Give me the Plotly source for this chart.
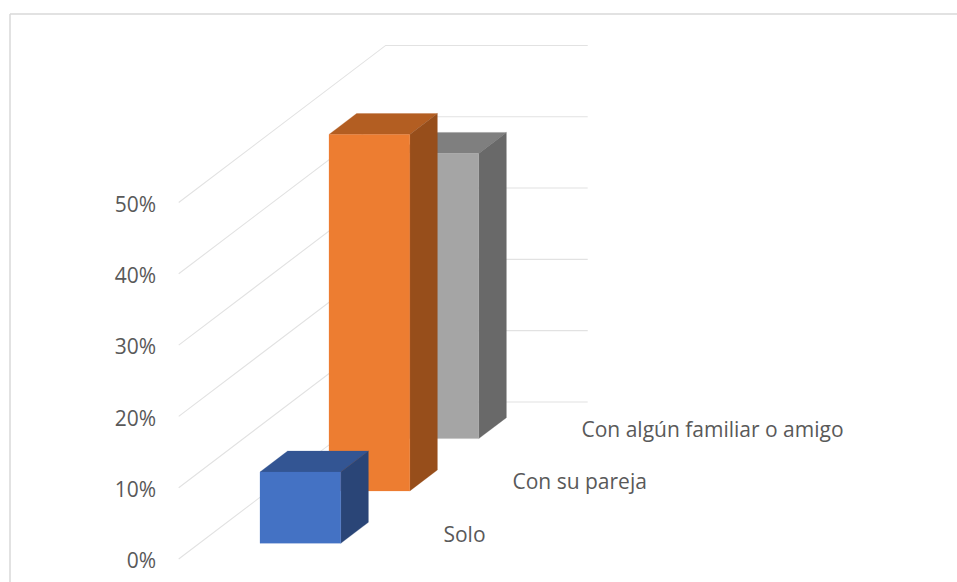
import plotly.graph_objects as go

# Data
categories = ["Solo", "Con su pareja", "Con algún familiar o amigo"]
values = [10, 50, 40]
front_colors = ["#4472C4", "#ED7D31", "#A5A5A5"]
top_colors = ["#335593", "#B35E22", "#7F7F7F"]
side_colors = ["#2A4577", "#974E1B", "#696969"]
y_ticks = [0, 10, 20, 30, 40, 50]
y_tick_labels = ["0%", "10%", "20%", "30%", "40%", "50%"]

# Oblique projection of (across, depth, value) onto the flat axes
ORIGIN_X = 178.7
WIDTH_X = 202
DEPTH_X = 207
DEPTH_RISE = 22.03  # percent units of upward shift across the full depth
BAR_START = 0.3
BAR_END = 0.7
PCT_PX = 7.13
FLOOR_PX = 559
W, H = 957, 582


def proj(u, d, v):
    return ORIGIN_X + WIDTH_X * u + DEPTH_X * d, v + DEPTH_RISE * d


def poly(points, fill):
    xy = [proj(*p) for p in points] + [proj(*points[0])]
    return go.Scatter(
        x=[a for a, _ in xy], y=[b for _, b in xy],
        mode="lines", fill="toself", fillcolor=fill,
        line=dict(color=fill, width=0.25), hoverinfo="skip", showlegend=False,
    )


fig = go.Figure()

# Gridlines: side wall then back wall
for t in y_ticks:
    xy = [proj(0, 0, t), proj(0, 1, t), proj(1, 1, t)]
    fig.add_trace(go.Scatter(
        x=[a for a, _ in xy], y=[b for _, b in xy], mode="lines",
        line=dict(color="#E2E2E2", width=1.1), hoverinfo="skip", showlegend=False,
    ))

# Bars, farthest first
n = len(categories)
for i in reversed(range(n)):
    d0 = (i + 0.3) / n
    d1 = (i + 0.7) / n
    v = values[i]
    u0, u1 = BAR_START, BAR_END
    fig.add_trace(poly([(u0, d0, v), (u1, d0, v), (u1, d1, v), (u0, d1, v)], top_colors[i]))
    fig.add_trace(poly([(u1, d0, 0), (u1, d1, 0), (u1, d1, v), (u1, d0, v)], side_colors[i]))
    fig.add_trace(poly([(u0, d0, 0), (u1, d0, 0), (u1, d0, v), (u0, d0, v)], front_colors[i]))

# Depth-axis category labels
lx, ly = zip(*[proj(1.14, (i + 0.5) / n, -0.5) for i in range(n)])
fig.add_trace(go.Scatter(
    x=lx, y=ly, text=categories, mode="text", textposition="middle right",
    textfont=dict(family="Open Sans", size=21, color="#595959"),
    hoverinfo="skip", showlegend=False,
))

fig.update_layout(
    width=W, height=H, margin=dict(l=0, r=0, t=0, b=0),
    paper_bgcolor="white", plot_bgcolor="white", showlegend=False,
    xaxis=dict(range=[0, W], visible=False, fixedrange=True),
    yaxis=dict(
        range=[(FLOOR_PX - H) / PCT_PX, FLOOR_PX / PCT_PX],
        tickmode="array", tickvals=y_ticks, ticktext=y_tick_labels,
        showgrid=False, zeroline=False, ticklabelshift=2,
        showline=False, ticks="", anchor="free", position=156 / W, fixedrange=True,
        tickfont=dict(family="Open Sans", size=21, color="#595959"),
    ),
    shapes=[
        dict(type="line", xref="paper", yref="paper", x0=10 / W, x1=10 / W, y0=0, y1=1 - 14 / H,
             line=dict(color="#D9D9D9", width=1.5)),
        dict(type="line", xref="paper", yref="paper", x0=10 / W, x1=1, y0=1 - 14 / H, y1=1 - 14 / H,
             line=dict(color="#D9D9D9", width=1.5)),
    ],
)

fig.write_html("out.html", config=dict(displayModeBar=False),
               post_script="document.body.style.margin='0';")
